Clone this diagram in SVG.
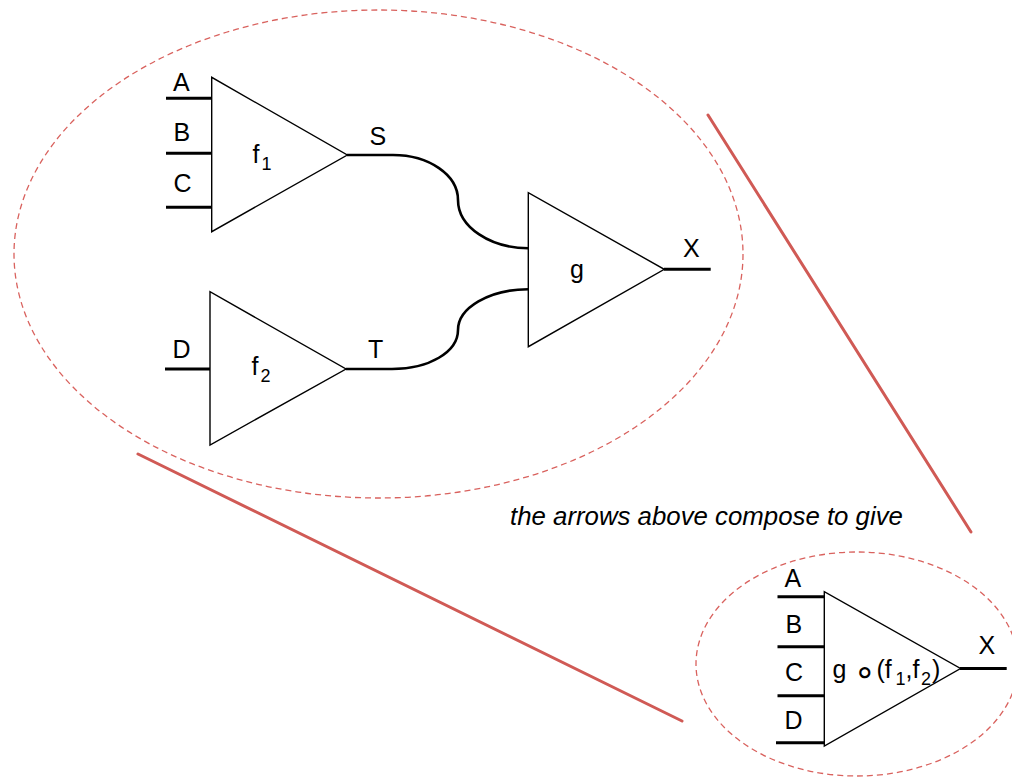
<svg xmlns="http://www.w3.org/2000/svg" width="1012" height="778" viewBox="0 0 1012 778">
<style>
.tri{fill:#fff;stroke:#000;stroke-width:1.4;stroke-linejoin:miter}
.wire{fill:none;stroke:#000;stroke-width:3;stroke-linecap:butt}
.conn{fill:none;stroke:#000;stroke-width:2.6}
.lbl{font-family:"Liberation Sans",Arial,"DejaVu Sans",sans-serif;font-size:25px;fill:#000}
.sub{font-size:18px}
.dash{fill:none;stroke:#d9625e;stroke-width:1.3;stroke-dasharray:6 4}
.red{stroke:#d05a55;stroke-width:3;stroke-linecap:round}
.note{font-family:"Liberation Sans",Arial,sans-serif;font-size:25.8px;font-style:italic;fill:#000}
</style>
<rect width="1012" height="778" fill="#fff"/>
<g id="annotations">
<ellipse class="dash" cx="378.5" cy="254" rx="364.5" ry="244"/>
<ellipse class="dash" cx="857" cy="664" rx="161" ry="112"/>
<line class="red" x1="708" y1="115" x2="971" y2="532"/>
<line class="red" x1="138" y1="454" x2="682" y2="721"/>
<text class="note" x="510" y="525">the arrows above compose to give</text>
</g>
<g id="connectors">
<path class="conn" d="M347,155 L393,155 C429,155 458,175 458,200 C458,227 490,248 528.3,248.3"/>
<path class="conn" d="M528.3,289.3 C489,289.3 458,308 458,330 C458,352 429,369 392,369 L346,369"/>
</g>
<g id="f1">
<line class="wire" x1="166" y1="98.3" x2="211.7" y2="98.3"/>
<line class="wire" x1="166" y1="153.3" x2="211.7" y2="153.3"/>
<line class="wire" x1="166" y1="207.3" x2="211.7" y2="207.3"/>
<polygon class="tri" points="211.7,77.3 211.7,231.7 347.3,155"/>
<text class="lbl" x="173" y="90.7">A</text>
<text class="lbl" x="173.5" y="140.5">B</text>
<text class="lbl" x="173.5" y="191.7">C</text>
<text class="lbl" x="252.5" y="163">f<tspan class="sub" x="261.5" y="169.5">1</tspan></text>
<text class="lbl" x="369.5" y="145">S</text>
</g>
<g id="f2">
<line class="wire" x1="165" y1="369" x2="210" y2="369"/>
<polygon class="tri" points="210,291.7 210,445 346,369"/>
<text class="lbl" x="172.5" y="358">D</text>
<text class="lbl" x="251.5" y="375">f<tspan class="sub" x="260.5" y="382">2</tspan></text>
<text class="lbl" x="368" y="358">T</text>
</g>
<g id="g">
<line class="wire" x1="664" y1="269.3" x2="710.7" y2="269.3"/>
<polygon class="tri" points="528.3,192.7 528.3,346.7 664.3,269.3"/>
<text class="lbl" x="570" y="278">g</text>
<text class="lbl" x="683" y="256.7">X</text>
</g>
<g id="composite">
<line class="wire" x1="777.5" y1="596.7" x2="824.3" y2="596.7"/>
<line class="wire" x1="777.5" y1="646.7" x2="824.3" y2="646.7"/>
<line class="wire" x1="777.5" y1="695.8" x2="824.3" y2="695.8"/>
<line class="wire" x1="776" y1="742.7" x2="824.3" y2="742.7"/>
<line class="wire" x1="960" y1="668.5" x2="1006.7" y2="668.5"/>
<polygon class="tri" points="824.3,591.7 824.3,746 960.5,668.5"/>
<text class="lbl" x="784.5" y="587.3">A</text>
<text class="lbl" x="785.5" y="633.3">B</text>
<text class="lbl" x="785" y="680.5">C</text>
<text class="lbl" x="784.5" y="729">D</text>
<text class="lbl" x="978.5" y="654">X</text>
<text class="lbl" y="678"><tspan x="832.5">g</tspan><tspan x="853.5" y="684" font-family="DejaVu Sans,sans-serif" font-size="36px">∘</tspan><tspan x="876.5" y="678">(f</tspan><tspan class="sub" x="895.5" y="685">1</tspan><tspan x="905.5" y="678">,f</tspan><tspan class="sub" x="921" y="685">2</tspan><tspan x="932" y="678">)</tspan></text>
</g>
</svg>
